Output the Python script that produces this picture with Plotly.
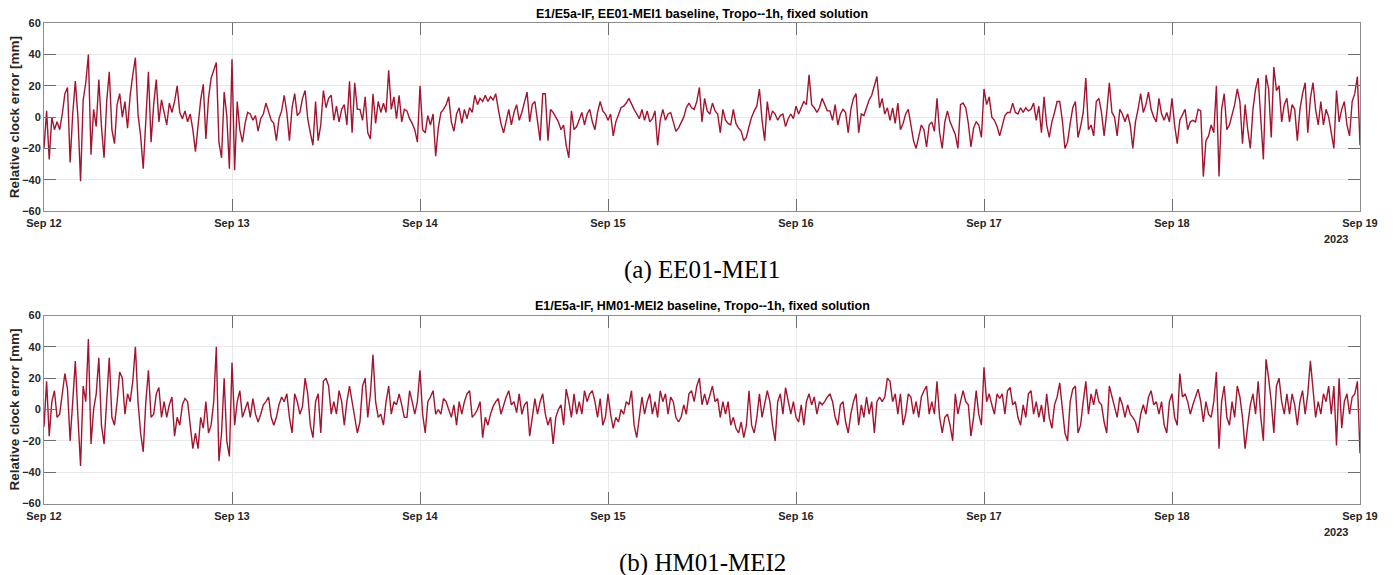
import pandas as pd
import plotly.graph_objects as go

START = "2023-09-12 00:00"
STEP = "20min"
day_ticks = ["2023-09-12", "2023-09-13", "2023-09-14", "2023-09-15",
             "2023-09-16", "2023-09-17", "2023-09-18", "2023-09-19"]
day_labels = ["Sep 12", "Sep 13", "Sep 14", "Sep 15", "Sep 16", "Sep 17", "Sep 18", "Sep 19"]
y_ticks = [-60, -40, -20, 0, 20, 40, 60]

# EE01-MEI1 relative clock error [mm], 20-min samples per day
ee_d1 = [-20, 4, -27, 0, -8, -3, -8, 2, 15, 19, -29, 2, 23, 0, -41, 11, 22, 40, -24, 5,
         -6, 24, -6, -26, 10, 29, -8, -17, 8, 15, 0, 10, -7, 14, 27, 38, 2, -12, -33, 3,
         29, -16, 8, 24, -3, 11, 2, -5, 9, 3, 10, 20, 3, -1, 4, -3, 2, -8, -22, -4,
         11, 21, -14, 12, 25, 30, 35, -16, -26, 16, 1, -33]
ee_d2 = [37, -34, 10, -8, -16, -4, 3, 2, -2, 1, -9, -1, 2, 9, 3, -2, -4, -15, -1, 4,
         14, 3, -15, 6, 15, 1, 3, 12, 17, -1, -10, -18, 10, -15, -5, 17, 6, 12, 14, -2,
         7, -3, 5, 8, -5, 23, -10, 22, 5, 5, -2, 13, -10, -14, 15, -4, 10, 3, 9, 3,
         30, 5, 13, -1, 14, -3, 5, 4, -1, -4, -8, -16]
ee_d3 = [20, -8, -10, 1, -5, 2, -25, -7, 3, 5, 8, 13, -3, -9, 2, 6, -4, 5, -1, 6,
         3, 14, 8, 12, 10, 14, 10, 13, 11, 15, 5, -4, -10, -3, 5, -5, 3, 8, -2, 3,
         10, 16, -3, 8, 10, -3, -15, 15, 15, -15, 5, 3, 0, -3, -8, -5, -18, -26, 4, -8,
         -6, -1, 3, -5, 2, 5, -3, -8, 3, 10, 4, 2]
ee_d4 = [-2, 2, -12, -3, 1, 6, 7, 9, 12, 8, 5, 2, -1, 5, -2, 4, -3, -1, 4, -18,
         -2, 5, -2, 2, 3, -3, -9, -7, -3, 0, 6, 9, 6, 5, 10, 19, -3, 12, 4, 2,
         9, 4, 2, -10, 5, -2, -4, -5, 5, -4, -7, -9, -15, -13, -6, 0, 4, 7, 18, -2,
         -15, 10, -2, 4, 2, -2, 1, 2, -6, -1, 2, -1]
ee_d5 = [7, 2, 6, 10, 8, 27, 8, 6, 3, 6, 12, 8, 4, 4, -2, 8, -5, 2, 5, 3,
         -10, 5, 12, 15, -10, 2, 1, 6, 11, 14, 20, 26, 6, 12, 2, 6, -2, 6, -4, 9,
         -8, -4, 2, 5, -5, -15, -20, -12, -5, -8, -19, -5, -3, -9, 12, -10, -20, -3, 4, -3,
         -7, -11, -20, 8, 9, 6, -4, -19, -7, -3, -5, -13]
ee_d6 = [18, 8, 13, 0, -2, -6, -12, -6, 1, 3, 3, 9, 3, 2, 6, 3, 6, 4, 5, 9,
         -2, 7, -10, 13, -5, -13, -3, 3, 10, 10, -2, -20, -16, -4, 6, 10, -13, -6, 3, 25,
         -8, -5, -12, 10, 12, 3, -12, 3, 22, 3, 0, -12, 5, 2, -3, 2, -5, -20, -3, 5,
         15, 3, 8, 16, 5, 0, -3, 12, 2, -2, 3, -3]
ee_d7 = [12, -5, -17, -2, 2, 5, -8, -3, -2, -3, 5, 4, -38, -15, -12, -5, -10, 20, -38, 5,
         15, -8, -5, 1, 8, 18, 10, -17, 8, -8, -20, 5, 18, 25, -2, -27, 27, 18, -13, 32,
         17, 20, -3, 8, 12, -3, 8, 5, -15, 5, 15, 22, -10, 12, 22, 5, -5, 10, -5, 5,
         0, -10, -20, 17, -3, 5, 10, -5, -12, 10, 15, 26, -18]

# HM01-MEI2 relative clock error [mm], 20-min samples per day
hm_d1 = [-11, 18, -17, 5, 12, -5, -3, 10, 23, 13, -20, 5, 31, -5, -36, 15, 5, 45, -22, 0,
         10, 33, -10, -22, 5, 33, -5, -10, 5, 24, 20, -3, 10, 5, 18, 40, 5, -15, -27, 5,
         25, -5, -3, 10, 14, -5, 5, -5, 3, 8, -17, -5, -10, 3, 7, 5, -10, -25, -15, -25,
         -5, -12, 5, -15, -10, 5, 40, -33, -15, 20, -20, -30]
hm_d2 = [30, -10, 5, 12, -5, 0, 5, -5, 7, -3, -8, -3, 3, 5, 8, -5, -10, -5, 3, 8,
         5, 10, -5, -15, 10, 5, -3, 2, 20, 10, -10, -18, 5, 10, -15, 18, 20, 15, -3, 5,
         -3, 12, 5, -10, 5, 15, 5, -5, -15, -8, 15, 20, -5, 10, 35, 5, -5, -3, -10, 5,
         15, -3, 5, 3, 10, 3, -5, -5, 12, 5, -3, 5]
hm_d3 = [25, -3, -15, 5, 8, 12, -3, 0, -3, 7, 5, 0, -5, 3, -10, 5, -3, 5, 10, 12,
         -5, -3, 0, 5, -18, -5, -10, -3, 2, 5, 7, -3, 3, 8, 12, 3, 5, -2, 10, -3,
         3, 5, -17, -5, 7, -3, 5, 10, -3, -10, -5, -22, -5, 0, 3, -10, 13, 5, -5, 10,
         -3, 5, -3, 12, 5, 10, 12, 5, -5, 7, -10, -5]
hm_d4 = [10, -3, -12, -5, -8, 0, -3, 5, 3, 12, -10, -18, -3, 8, -3, 5, 10, -3, 5, -5,
         12, 5, 10, -3, 8, 5, -5, -8, -5, 3, -3, 10, 12, 5, 15, 20, 3, 10, 3, 10,
         15, 5, 7, -5, 5, -3, 5, -10, -5, -12, -15, -8, -18, -10, 12, -10, -15, -5, 10, -5,
         3, 12, 5, -10, -20, 5, 10, -3, 14, 5, -3, 5]
hm_d5 = [-5, -8, 3, -10, 5, 10, 3, 8, -3, 5, 3, 5, 8, 10, 5, -5, -10, 3, 5, -8,
         -15, -3, 5, 10, -10, 3, -5, 8, -3, 5, -15, 5, 8, 5, 8, 20, 18, 5, 10, -3,
         10, -10, -3, 10, 8, -3, 5, -5, 8, 12, 15, -3, 5, -3, 18, -5, -15, -5, -3, -10,
         -20, 10, -3, 5, 12, 5, 3, -17, -5, 12, -3, -10]
hm_d6 = [27, 5, 10, 3, -3, 10, 7, 10, -3, 12, 14, 3, 5, -5, -10, 3, -5, 10, 12, -3,
         5, -5, 3, -8, 10, -5, -12, 3, 8, 17, 3, -15, -20, 5, 13, 15, -15, -10, 5, 18,
         -3, 10, 3, 13, 5, 3, -8, -15, 15, 8, 3, -5, 8, 3, -5, 3, -3, -5, -8, -15,
         -3, 3, -3, 8, 12, 3, 5, -3, 5, -10, -15, 5]
hm_d7 = [10, -5, -10, 23, 8, 10, 5, -3, 3, 8, 13, 5, -8, 5, -3, -5, 5, 24, -25, 5,
         15, -5, -10, 5, -5, 15, 8, -5, -25, -10, 3, 10, -3, 18, -5, -20, 32, 20, 5, -15,
         15, 20, 5, -3, 10, -3, 10, 3, -10, 5, 12, -3, 10, 31, 15, -5, 5, -3, 10, 5,
         15, -3, 15, -23, 20, -12, 5, 10, -3, 8, 10, 18, -28]

ee_vals = ee_d1 + ee_d2 + ee_d3 + ee_d4 + ee_d5 + ee_d6 + ee_d7
hm_vals = hm_d1 + hm_d2 + hm_d3 + hm_d4 + hm_d5 + hm_d6 + hm_d7

titles = ["E1/E5a-IF, EE01-MEI1 baseline, Tropo--1h, fixed solution",
          "E1/E5a-IF, HM01-MEI2 baseline, Tropo--1h, fixed solution"]
captions = ["(a) EE01-MEI1", "(b) HM01-MEI2"]
y_title = "Relative clock error [mm]"
year_label = "2023"

W, H = 1393, 575
LINE = "#A2142F"
FONT = "Liberation Sans, Arial, sans-serif"
TXT = "#262626"

t_ee = pd.date_range(START, periods=len(ee_vals), freq=STEP)
t_hm = pd.date_range(START, periods=len(hm_vals), freq=STEP)

fig = go.Figure()
fig.add_trace(go.Scatter(x=t_ee, y=ee_vals, mode="lines", line=dict(color=LINE, width=1.4),
                         xaxis="x", yaxis="y", showlegend=False))
fig.add_trace(go.Scatter(x=t_hm, y=hm_vals, mode="lines", line=dict(color=LINE, width=1.4),
                         xaxis="x2", yaxis="y2", showlegend=False))

xdom = [44 / W, 1360 / W]
ydom_top = [1 - 211 / H, 1 - 23.3 / H]
ydom_bot = [1 - 503.5 / H, 1 - 315.5 / H]

def xaxis(anchor):
    return dict(domain=xdom, anchor=anchor, type="date",
                range=[day_ticks[0], day_ticks[-1]],
                tickmode="array", tickvals=day_ticks, ticktext=day_labels,
                showgrid=True, gridcolor="#e8e8e8", gridwidth=1,
                showline=True, linecolor="#8c8c8c", linewidth=1, mirror="ticks",
                ticks="inside", ticklen=12, tickcolor="#6e6e6e", tickwidth=1,
                ticklabelstandoff=2,
                tickfont=dict(family=FONT, size=11, color=TXT, weight="bold"),
                zeroline=False, automargin=False)

def yaxis(anchor, dom):
    return dict(domain=dom, anchor=anchor, range=[-60, 60],
                tickmode="array", tickvals=y_ticks,
                showgrid=True, gridcolor="#e8e8e8", gridwidth=1,
                showline=True, linecolor="#8c8c8c", linewidth=1, mirror="ticks",
                ticks="inside", ticklen=12, tickcolor="#6e6e6e", tickwidth=1,
                tickfont=dict(family=FONT, size=11, color=TXT, weight="bold"),
                zeroline=False, automargin=False)

fig.update_layout(
    width=W, height=H,
    margin=dict(l=0, r=0, t=0, b=0),
    paper_bgcolor="white", plot_bgcolor="white",
    xaxis=xaxis("y"), yaxis=yaxis("x", ydom_top),
    xaxis2=xaxis("y2"), yaxis2=yaxis("x2", ydom_bot),
    showlegend=False,
)

ann = []
for i, (dom, ttl, cap) in enumerate(zip([ydom_top, ydom_bot], titles, captions)):
    ymid = (dom[0] + dom[1]) / 2
    ann.append(dict(text=ttl, x=(xdom[0] + xdom[1]) / 2, y=dom[1] + 9 / H,
                    xref="paper", yref="paper", showarrow=False,
                    font=dict(family=FONT, size=12.5, color="black", weight="bold"),
                    xanchor="center", yanchor="middle"))
    ann.append(dict(text=y_title, x=14 / W, y=ymid, xref="paper", yref="paper",
                    showarrow=False, textangle=-90,
                    font=dict(family=FONT, size=13.5, color=TXT, weight="bold"),
                    xanchor="center", yanchor="middle"))
    ann.append(dict(text=year_label, x=1350 / W, y=dom[0] - 28 / H,
                    xref="paper", yref="paper", showarrow=False,
                    font=dict(family=FONT, size=11, color=TXT, weight="bold"),
                    xanchor="right", yanchor="middle"))
    ann.append(dict(text=cap, x=702 / W, y=dom[0] - 59 / H,
                    xref="paper", yref="paper", showarrow=False,
                    font=dict(family="Liberation Serif, Times New Roman, serif", size=25, color="black"),
                    xanchor="center", yanchor="middle"))
fig.update_layout(annotations=ann)

fig.write_html("out.html")
